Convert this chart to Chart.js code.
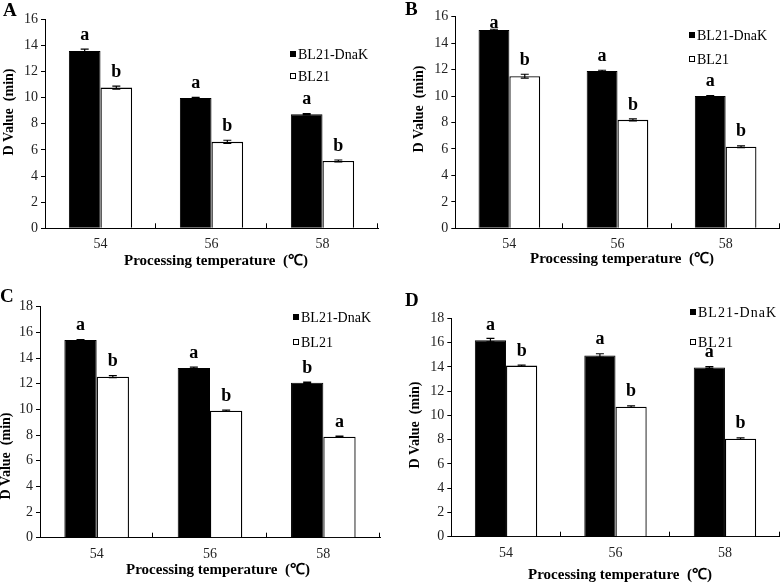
<!DOCTYPE html>
<html>
<head>
<meta charset="utf-8">
<script src="https://cdn.jsdelivr.net/npm/chart.js@4.4.1/dist/chart.umd.min.js"></script>
<style>
  html, body { margin: 0; padding: 0; background: #fff; }
  #wrap { position: relative; width: 784px; height: 583px; overflow: hidden; }
  #wrap canvas { position: absolute; left: 0; top: 0; }
</style>
</head>
<body>
<div id="wrap">
  <canvas id="panelA" width="784" height="583"></canvas>
  <canvas id="panelB" width="784" height="583"></canvas>
  <canvas id="panelC" width="784" height="583"></canvas>
  <canvas id="panelD" width="784" height="583"></canvas>
</div>
<script>
// temperatures on the x axis
const temps = ['54', '56', '58'];
const seriesNames = ['BL21-DnaK', 'BL21'];

// panel A
const dnakA = [13.57, 9.98, 8.73];
const bl21A = [10.77, 6.62, 5.16];
const dnakErrA = [0.15, 0.05, 0.05];
const bl21ErrA = [0.12, 0.12, 0.07];
const dnakSigA = ['a', 'a', 'a'];
const bl21SigA = ['b', 'b', 'b'];

// panel B
const dnakB = [15.0, 11.9, 10.0];
const bl21B = [11.5, 8.2, 6.17];
const dnakErrB = [0.05, 0.05, 0.03];
const bl21ErrB = [0.15, 0.07, 0.07];
const dnakSigB = ['a', 'a', 'a'];
const bl21SigB = ['b', 'b', 'b'];

// panel C
const dnakC = [15.4, 13.22, 12.08];
const bl21C = [12.55, 9.9, 7.87];
const dnakErrC = [0.03, 0.07, 0.05];
const bl21ErrC = [0.08, 0.05, 0.05];
const dnakSigC = ['a', 'a', 'b'];
const bl21SigC = ['b', 'b', 'a'];

// panel D
const dnakD = [16.2, 14.93, 13.94];
const bl21D = [14.1, 10.72, 8.08];
const dnakErrD = [0.15, 0.15, 0.07];
const bl21ErrD = [0.05, 0.07, 0.07];
const dnakSigD = ['a', 'a', 'a'];
const bl21SigD = ['b', 'b', 'b'];

const yMaxA = 16, yMaxB = 16, yMaxC = 18, yMaxD = 18;

const SERIF = '"Liberation Serif", "Times New Roman", serif';
const Y_W = 30, X_H = 40;

/* layout of each panel (pixel boxes + text anchors) */
const panels = {
  panelA: {
    letter: 'A', max: yMaxA, vals: [dnakA, bl21A], errs: [dnakErrA, bl21ErrA], sig: [dnakSigA, bl21SigA],
    box: { left: 45, top: 19.3, right: 378, bottom: 228.3 },
    letterPos: [3, 11], yTitle: [9, 112], xTitle: [216, 261],
    legend: { x: 290, rows: [54, 76], size: 14, spacing: 0 }
  },
  panelB: {
    letter: 'B', max: yMaxB, vals: [dnakB, bl21B], errs: [dnakErrB, bl21ErrB], sig: [dnakSigB, bl21SigB],
    box: { left: 455.3, top: 16.7, right: 779.7, bottom: 228.3 },
    letterPos: [405, 10], yTitle: [419, 109], xTitle: [622, 259],
    legend: { x: 689, rows: [35, 59], size: 14, spacing: 0 }
  },
  panelC: {
    letter: 'C', max: yMaxC, vals: [dnakC, bl21C], errs: [dnakErrC, bl21ErrC], sig: [dnakSigC, bl21SigC],
    box: { left: 40, top: 306.7, right: 380, bottom: 537.7 },
    letterPos: [0, 297], yTitle: [6, 456], xTitle: [218, 570],
    legend: { x: 293, rows: [317, 342], size: 14, spacing: 0 }
  },
  panelD: {
    letter: 'D', max: yMaxD, vals: [dnakD, bl21D], errs: [dnakErrD, bl21ErrD], sig: [dnakSigD, bl21SigD],
    box: { left: 451.3, top: 318.3, right: 779.7, bottom: 536.7 },
    letterPos: [405, 301], yTitle: [415, 425], xTitle: [620, 575],
    legend: { x: 690, rows: [312, 342], size: 14, spacing: 1 }
  }
};

// error bars, significance letters, legend, titles
const decor = {
  id: 'decor',
  afterDraw(chart) {
    const p = panels[chart.canvas.id];
    const ctx = chart.ctx;
    const ys = chart.scales.y;
    const area = chart.chartArea;
    ctx.save();
    ctx.strokeStyle = '#000';
    ctx.fillStyle = '#000';

    // inward ticks at category boundaries
    const catW = (area.right - area.left) / temps.length;
    ctx.lineWidth = 1;
    for (let i = 1; i <= temps.length; i++) {
      const x = Math.round(area.left + catW * i) - 0.5;
      ctx.beginPath();
      ctx.moveTo(x, area.bottom);
      ctx.lineTo(x, area.bottom - 5);
      ctx.stroke();
    }

    // error bars + letters
    for (let d = 0; d < 2; d++) {
      const meta = chart.getDatasetMeta(d);
      meta.data.forEach((bar, i) => {
        const v = p.vals[d][i], e = p.errs[d][i];
        const yt = ys.getPixelForValue(v + e);
        const yb = ys.getPixelForValue(v - e);
        ctx.lineWidth = 1.2;
        ctx.beginPath();
        ctx.moveTo(bar.x, yt); ctx.lineTo(bar.x, yb);
        ctx.moveTo(bar.x - 4, yt); ctx.lineTo(bar.x + 4, yt);
        ctx.moveTo(bar.x - 4, yb); ctx.lineTo(bar.x + 4, yb);
        ctx.stroke();

        const ly = Math.max(yt - 14, area.top + 7);
        ctx.font = 'bold 18px ' + SERIF;
        ctx.textAlign = 'center';
        ctx.textBaseline = 'middle';
        ctx.fillText(p.sig[d][i], bar.x, ly);
      });
    }

    // legend
    const lg = p.legend;
    ctx.font = lg.size + 'px ' + SERIF;
    if ('letterSpacing' in ctx) ctx.letterSpacing = lg.spacing + 'px';
    ctx.textAlign = 'left';
    ctx.textBaseline = 'middle';
    seriesNames.forEach((name, k) => {
      const y = lg.rows[k];
      if (k === 0) {
        ctx.fillRect(lg.x, y - 3, 6, 6);
      } else {
        ctx.lineWidth = 1;
        ctx.strokeRect(lg.x + 0.5, y - 2.5, 5, 5);
      }
      ctx.fillText(name, lg.x + 8, y + 1);
    });
    if ('letterSpacing' in ctx) ctx.letterSpacing = '0px';

    // panel letter
    ctx.font = 'bold 19px ' + SERIF;
    ctx.textAlign = 'left';
    ctx.fillText(p.letter, p.letterPos[0], p.letterPos[1]);

    // x title
    ctx.font = 'bold 15px ' + SERIF;
    ctx.textAlign = 'center';
    ctx.fillText('Processing temperature  (\u2103)', p.xTitle[0], p.xTitle[1]);

    // y title
    ctx.font = 'bold 14px ' + SERIF;
    ctx.translate(p.yTitle[0], p.yTitle[1]);
    ctx.rotate(-Math.PI / 2);
    ctx.fillText('D Value  (min)', 0, 0);
    ctx.restore();
  }
};

function makePanel(id) {
  const p = panels[id];
  const tickFont = { family: SERIF, size: 14 };
  return new Chart(document.getElementById(id), {
    type: 'bar',
    data: {
      labels: temps,
      datasets: [
        { label: seriesNames[0], data: p.vals[0], backgroundColor: '#000', borderColor: '#000', borderWidth: 1 },
        { label: seriesNames[1], data: p.vals[1], backgroundColor: '#fff', borderColor: '#000', borderWidth: 1.3 }
      ]
    },
    options: {
      responsive: false,
      animation: false,
      layout: {
        padding: {
          left: p.box.left - Y_W,
          top: p.box.top,
          right: 784 - p.box.right,
          bottom: 583 - p.box.bottom - X_H
        }
      },
      datasets: { bar: { categoryPercentage: 0.57, barPercentage: 1 } },
      plugins: { legend: { display: false }, tooltip: { enabled: false } },
      scales: {
        x: {
          grid: { display: false, drawTicks: false },
          border: { display: true, color: '#000', width: 1 },
          ticks: { font: tickFont, color: '#222', padding: 8 },
          afterFit(s) { s.height = X_H; }
        },
        y: {
          min: 0, max: p.max,
          grid: { drawOnChartArea: false, drawTicks: true, tickLength: 4, color: '#000' },
          border: { display: true, color: '#000', width: 1 },
          ticks: { stepSize: 2, font: tickFont, color: '#222', padding: 3 },
          afterFit(s) { s.width = Y_W; }
        }
      }
    },
    plugins: [decor]
  });
}

Object.keys(panels).forEach(makePanel);
</script>
</body>
</html>
